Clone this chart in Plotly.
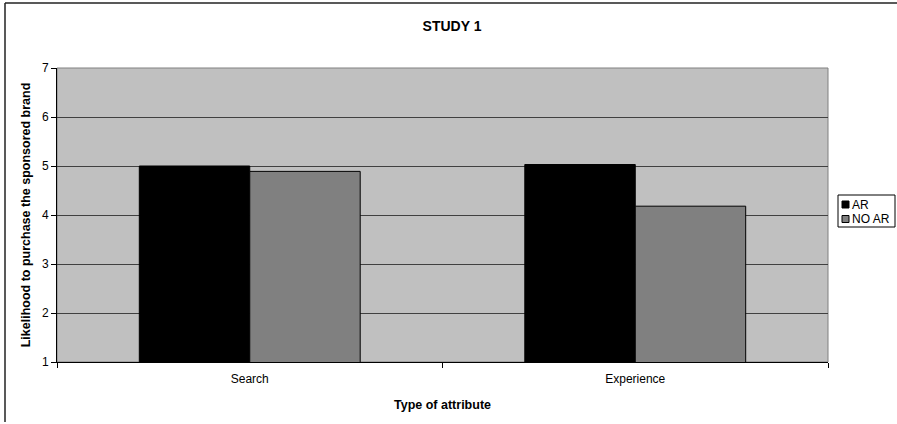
import plotly.graph_objects as go

# Study 1: purchase likelihood by attribute type
categories = ["Search", "Experience"]
ar_values = [5.0, 5.03]
no_ar_values = [4.89, 4.18]
series_names = ["AR", "NO AR"]
series_colors = ["#000000", "#808080"]

W, H = 897, 424
ML, MR, MT, MB = 57, 69, 68, 62
plot_w = W - ML - MR
plot_h = H - MT - MB


def px_x(p):
    return (p - ML) / plot_w


def px_y(p):
    return (H - MB - p) / plot_h


fig = go.Figure()
for name, vals, col in zip(series_names, [ar_values, no_ar_values], series_colors):
    fig.add_trace(go.Bar(
        x=categories, y=vals, name=name,
        marker=dict(color=col, line=dict(color="#000000", width=1)),
        showlegend=False,
    ))

# Compact legend box drawn with shapes and text
legend_x0, legend_x1 = 838, 895
legend_y0, legend_y1 = 195, 227
row_y = [204.5, 219]
shapes = [
    # plot frame (top and right edges)
    dict(type="rect", xref="paper", yref="paper", x0=0, x1=1, y0=0, y1=1,
         line=dict(color="#808080", width=1), layer="below"),
    # outer chart border (left and top edges)
    dict(type="line", xref="paper", yref="paper",
         x0=px_x(5), x1=px_x(5), y0=px_y(422), y1=px_y(3),
         line=dict(color="#222222", width=1.5)),
    dict(type="line", xref="paper", yref="paper",
         x0=px_x(5), x1=px_x(W + 5), y0=px_y(3), y1=px_y(3),
         line=dict(color="#222222", width=1.5)),
    dict(type="rect", xref="paper", yref="paper",
         x0=px_x(legend_x0), x1=px_x(legend_x1), y0=px_y(legend_y1), y1=px_y(legend_y0),
         line=dict(color="#000000", width=1), fillcolor="white"),
]
annotations = []
for name, col, ry in zip(series_names, series_colors, row_y):
    shapes.append(dict(type="rect", xref="paper", yref="paper",
                       x0=px_x(842), x1=px_x(849), y0=px_y(ry + 3.5), y1=px_y(ry - 3.5),
                       line=dict(color="#000000", width=1), fillcolor=col))
    annotations.append(dict(text=name, xref="paper", yref="paper",
                            x=px_x(850), y=px_y(ry), xanchor="left", yanchor="middle",
                            showarrow=False, font=dict(size=12)))

fig.update_layout(
    width=W, height=H,
    margin=dict(l=ML, r=MR, t=MT, b=MB, pad=0, autoexpand=False),
    paper_bgcolor="white",
    plot_bgcolor="#C0C0C0",
    barmode="group",
    bargap=0.427,
    bargroupgap=0,
    font=dict(family="Liberation Sans, Arial, sans-serif", size=12, color="#000000"),
    title=dict(text="<b>STUDY 1</b>", x=px_x(452), xanchor="center", xref="paper",
               y=1 - 26 / H, yanchor="middle", font=dict(size=14)),
    showlegend=False,
    xaxis=dict(
        title=dict(text="<b>Type of attribute</b>", font=dict(size=12.5), standoff=14),
        showline=True, linecolor="#000000", linewidth=1,
        ticks="outside", ticklen=5, tickcolor="#000000", tickson="boundaries",
        ticklabelstandoff=6,
        showgrid=False, zeroline=False, tickfont=dict(size=12),
    ),
    yaxis=dict(
        title=dict(text="<b>Likelihood to purchase the sponsored brand</b>", font=dict(size=12.5), standoff=8),
        range=[1, 7], dtick=1, tick0=1,
        showline=True, linecolor="#000000", linewidth=1,
        ticks="outside", ticklen=5, tickcolor="#000000",
        showgrid=True, gridcolor="#404040", gridwidth=1, zeroline=False,
        tickfont=dict(size=12),
    ),
    shapes=shapes,
    annotations=annotations,
)

fig.write_html("out.html")
